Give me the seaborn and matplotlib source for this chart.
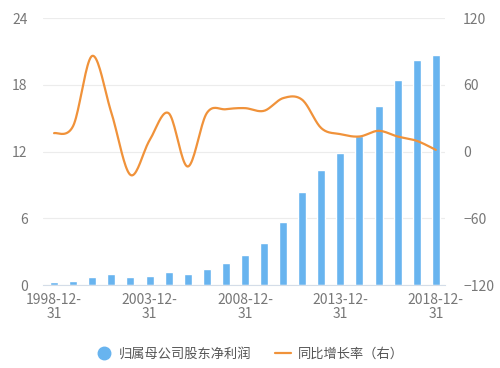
import numpy as np
import pandas as pd
import matplotlib
matplotlib.use("Agg")
import matplotlib.pyplot as plt
import seaborn as sns
from matplotlib.lines import Line2D

# 数据
years = [str(y) for y in range(1998, 2019)]
net_profit = [0.24, 0.36, 0.75, 1.0, 0.72, 0.81, 1.17, 0.99, 1.41, 1.95, 2.7,
              3.8, 5.7, 8.4, 10.3, 11.85, 13.4, 16.1, 18.4, 20.2, 20.7]
growth = [16.5, 23, 86, 35, -21, 10, 34.5, -13.5, 34.5, 38, 39,
          36.6, 48, 46.5, 21, 15.6, 13.5, 18.6, 13.5, 9.6, 1.5]
tick_labels = ["1998-12-\n31", "2003-12-\n31", "2008-12-\n31", "2013-12-\n31", "2018-12-\n31"]

bar_color = "#68b4ef"
line_color = "#f0923a"
text_color = "#777777"
grid_color = "#ececec"

sns.set_style("white")
plt.rcParams['font.family'] = ['Noto Sans CJK SC', 'DejaVu Sans']

df = pd.DataFrame({"year": years, "profit": net_profit, "growth": growth})

fig = plt.figure(figsize=(5, 3.68), dpi=100)
ax = fig.add_axes([0.086, 0.2255, 0.804, 0.7255])

sns.barplot(data=df, x="year", y="profit", color=bar_color, width=0.42,
            saturation=1, ax=ax, zorder=2)

ax.set_ylim(0, 24)
ax.set_yticks([0, 6, 12, 18, 24])
ax.set_xlim(-0.58, 20.48)
ax.set_xticks([0, 5, 10, 15, 20])
ax.set_xticklabels(tick_labels, linespacing=1.0)
ax.set_xlabel("")
ax.set_ylabel("")
ax.grid(axis="y", color=grid_color, linewidth=0.8, zorder=0)
ax.set_axisbelow(True)
for s in ["top", "right", "left"]:
    ax.spines[s].set_visible(False)
ax.spines["bottom"].set_color("#d4dde8")
ax.tick_params(axis="x", colors="#d4dde8", length=3, labelcolor=text_color,
               labelsize=10, pad=3)
ax.tick_params(axis="y", length=0, labelcolor=text_color, labelsize=10, pad=11)

# 平滑曲线 (Catmull-Rom)
ax2 = ax.twinx()
x = np.arange(len(growth), dtype=float)
y = np.array(growth, dtype=float)
xs, ys = [], []
px = np.concatenate([[x[0]], x, [x[-1]]])
py = np.concatenate([[y[0]], y, [y[-1]]])
t = np.linspace(0, 1, 20, endpoint=False)
for i in range(1, len(px) - 2):
    for arr, out in ((px, xs), (py, ys)):
        p0, p1, p2, p3 = arr[i - 1], arr[i], arr[i + 1], arr[i + 2]
        out.extend(0.5 * ((2 * p1) + (-p0 + p2) * t
                          + (2 * p0 - 5 * p1 + 4 * p2 - p3) * t ** 2
                          + (-p0 + 3 * p1 - 3 * p2 + p3) * t ** 3))
xs.append(x[-1])
ys.append(y[-1])
ax2.plot(xs, ys, color=line_color, linewidth=1.6, zorder=3)
ax2.set_ylim(-120, 120)
ax2.set_yticks([-120, -60, 0, 60, 120])
for s in ax2.spines.values():
    s.set_visible(False)
ax2.tick_params(axis="y", length=0, labelcolor=text_color, labelsize=10, pad=13)

handles = [
    Line2D([], [], marker="o", linestyle="", markersize=9,
           markerfacecolor=bar_color, markeredgecolor=bar_color),
    Line2D([], [], color=line_color, linewidth=1.6),
]
fig.legend(handles, ["归属母公司股东净利润", "同比增长率（右）"], loc="center",
           bbox_to_anchor=(0.5, 0.038), ncol=2, frameon=False, fontsize=9.5,
           labelcolor="#555555", handlelength=1.2, columnspacing=1.8,
           handletextpad=0.5)

fig.savefig("out.png", dpi=100)
